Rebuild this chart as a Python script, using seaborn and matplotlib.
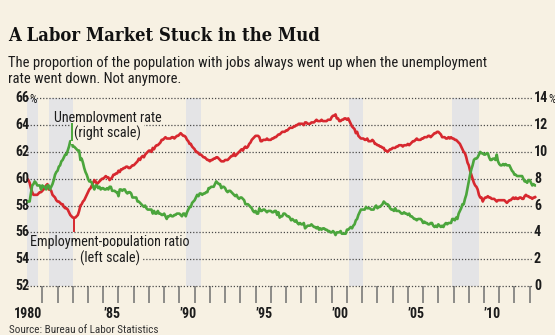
import numpy as np
import pandas as pd
import matplotlib
matplotlib.use("Agg")
import matplotlib.pyplot as plt
import matplotlib.transforms as mtransforms
from matplotlib import font_manager as fm
import seaborn as sns

# ---------------- data (monthly, starting Jan 1980) ----------------
start_year = 1980

unemployment_rate = [
    6.3, 6.3, 6.3, 6.9, 7.5, 7.6, 7.8, 7.7, 7.5, 7.5, 7.5, 7.2,      # 1980
    7.5, 7.4, 7.4, 7.2, 7.5, 7.5, 7.2, 7.4, 7.6, 7.9, 8.3, 8.5,      # 1981
    8.6, 8.9, 9.0, 9.3, 9.4, 9.6, 9.8, 9.8, 10.1, 10.4, 10.8, 10.8,  # 1982
    10.4, 10.4, 10.3, 10.2, 10.1, 10.1, 9.4, 9.5, 9.2, 8.8, 8.5, 8.3,  # 1983
    8.0, 7.8, 7.8, 7.7, 7.4, 7.2, 7.5, 7.5, 7.3, 7.4, 7.2, 7.3,      # 1984
    7.3, 7.2, 7.2, 7.3, 7.2, 7.4, 7.4, 7.1, 7.1, 7.1, 7.0, 7.0,      # 1985
    6.7, 7.2, 7.2, 7.1, 7.2, 7.2, 7.0, 6.9, 7.0, 7.0, 6.9, 6.6,      # 1986
    6.6, 6.6, 6.6, 6.3, 6.3, 6.2, 6.1, 6.0, 5.9, 6.0, 5.8, 5.7,      # 1987
    5.7, 5.7, 5.7, 5.4, 5.6, 5.4, 5.4, 5.6, 5.4, 5.4, 5.3, 5.3,      # 1988
    5.4, 5.2, 5.0, 5.2, 5.2, 5.3, 5.2, 5.2, 5.3, 5.3, 5.4, 5.4,      # 1989
    5.4, 5.3, 5.2, 5.4, 5.4, 5.2, 5.5, 5.7, 5.9, 5.9, 6.2, 6.3,      # 1990
    6.4, 6.6, 6.8, 6.7, 6.9, 6.9, 6.8, 6.9, 6.9, 7.0, 7.0, 7.3,      # 1991
    7.3, 7.4, 7.4, 7.4, 7.6, 7.8, 7.7, 7.6, 7.6, 7.3, 7.4, 7.4,      # 1992
    7.3, 7.1, 7.0, 7.1, 7.1, 7.0, 6.9, 6.8, 6.7, 6.8, 6.6, 6.5,      # 1993
    6.6, 6.6, 6.5, 6.4, 6.1, 6.1, 6.1, 6.0, 5.9, 5.8, 5.6, 5.5,      # 1994
    5.6, 5.4, 5.4, 5.8, 5.6, 5.6, 5.7, 5.7, 5.6, 5.5, 5.6, 5.6,      # 1995
    5.6, 5.5, 5.5, 5.6, 5.6, 5.3, 5.5, 5.1, 5.2, 5.2, 5.4, 5.4,      # 1996
    5.3, 5.2, 5.2, 5.1, 4.9, 5.0, 4.9, 4.8, 4.9, 4.7, 4.6, 4.7,      # 1997
    4.6, 4.6, 4.7, 4.3, 4.4, 4.5, 4.5, 4.5, 4.6, 4.5, 4.4, 4.4,      # 1998
    4.3, 4.4, 4.2, 4.3, 4.2, 4.3, 4.3, 4.2, 4.2, 4.1, 4.1, 4.0,      # 1999
    4.0, 4.1, 4.0, 3.8, 4.0, 4.0, 4.0, 4.1, 3.9, 3.9, 3.9, 3.9,      # 2000
    4.2, 4.2, 4.3, 4.4, 4.3, 4.5, 4.6, 4.9, 5.0, 5.3, 5.5, 5.7,      # 2001
    5.7, 5.7, 5.7, 5.9, 5.8, 5.8, 5.8, 5.7, 5.7, 5.7, 5.9, 6.0,      # 2002
    5.8, 5.9, 5.9, 6.0, 6.1, 6.3, 6.2, 6.1, 6.1, 6.0, 5.8, 5.7,      # 2003
    5.7, 5.6, 5.8, 5.6, 5.6, 5.6, 5.5, 5.4, 5.4, 5.5, 5.4, 5.4,      # 2004
    5.3, 5.4, 5.2, 5.2, 5.1, 5.0, 5.0, 4.9, 5.0, 5.0, 5.0, 4.9,      # 2005
    4.7, 4.8, 4.7, 4.7, 4.6, 4.6, 4.7, 4.7, 4.5, 4.4, 4.5, 4.4,      # 2006
    4.6, 4.5, 4.4, 4.5, 4.4, 4.6, 4.7, 4.6, 4.7, 4.7, 4.7, 5.0,      # 2007
    5.0, 4.9, 5.1, 5.0, 5.4, 5.6, 5.8, 6.1, 6.1, 6.5, 6.8, 7.3,      # 2008
    7.8, 8.3, 8.7, 9.0, 9.4, 9.5, 9.5, 9.6, 9.8, 10.0, 9.9, 9.9,     # 2009
    9.8, 9.8, 9.9, 9.9, 9.6, 9.4, 9.4, 9.5, 9.5, 9.4, 9.8, 9.3,      # 2010
    9.1, 9.0, 9.0, 9.1, 9.0, 9.1, 9.0, 9.0, 9.0, 8.8, 8.6, 8.5,      # 2011
    8.3, 8.3, 8.2, 8.2, 8.2, 8.2, 8.2, 8.0, 7.8, 7.8, 7.7, 7.9,      # 2012
    7.9, 7.7, 7.5, 7.6, 7.5, 7.5,                                    # 2013
]

employment_ratio = [
    60.0, 59.9, 59.7, 59.3, 59.0, 58.8, 58.8, 58.8, 58.8, 58.9, 59.0, 59.0,  # 1980
    59.1, 59.2, 59.3, 59.5, 59.6, 59.2, 59.2, 59.1, 58.8, 58.7, 58.6, 58.4,  # 1981
    58.3, 58.3, 58.2, 58.1, 58.1, 57.9, 57.8, 57.8, 57.7, 57.5, 57.3, 57.2,  # 1982
    57.1, 57.1, 57.1, 57.2, 57.3, 57.6, 58.0, 58.1, 58.3, 58.4, 58.6, 58.8,  # 1983
    59.0, 59.2, 59.3, 59.5, 59.7, 59.9, 59.8, 59.6, 59.7, 59.8, 59.9, 60.0,  # 1984
    60.0, 60.1, 60.2, 60.1, 60.1, 59.9, 60.0, 60.1, 60.3, 60.3, 60.4, 60.4,  # 1985
    60.6, 60.5, 60.7, 60.7, 60.8, 60.8, 60.9, 60.9, 60.8, 60.8, 60.9, 61.0,  # 1986
    61.0, 61.1, 61.2, 61.3, 61.5, 61.4, 61.6, 61.7, 61.6, 61.8, 61.9, 62.0,  # 1987
    62.1, 62.1, 62.0, 62.3, 62.2, 62.4, 62.5, 62.5, 62.6, 62.7, 62.9, 62.9,  # 1988
    63.0, 63.1, 63.0, 63.0, 63.0, 63.0, 63.1, 63.1, 63.0, 63.1, 63.2, 63.2,  # 1989
    63.3, 63.4, 63.3, 63.2, 63.2, 63.1, 62.9, 62.8, 62.6, 62.6, 62.4, 62.3,  # 1990
    62.2, 62.0, 62.0, 61.9, 61.8, 61.8, 61.7, 61.6, 61.6, 61.5, 61.4, 61.4,  # 1991
    61.3, 61.4, 61.4, 61.5, 61.5, 61.6, 61.6, 61.5, 61.4, 61.3, 61.3, 61.3,  # 1992
    61.4, 61.4, 61.4, 61.5, 61.6, 61.7, 61.7, 61.9, 61.7, 61.8, 61.9, 62.0,  # 1993
    62.1, 62.2, 62.1, 62.3, 62.4, 62.3, 62.4, 62.6, 62.7, 62.9, 63.0, 63.1,  # 1994
    63.2, 63.2, 63.2, 63.1, 62.8, 62.8, 62.9, 62.9, 62.9, 63.0, 62.9, 62.9,  # 1995
    62.9, 63.0, 63.0, 63.1, 63.1, 63.2, 63.3, 63.3, 63.4, 63.5, 63.5, 63.5,  # 1996
    63.6, 63.6, 63.7, 63.8, 63.8, 63.8, 63.9, 63.9, 64.0, 64.0, 64.1, 64.1,  # 1997
    64.1, 64.1, 64.0, 64.2, 64.2, 64.1, 64.1, 64.1, 64.2, 64.2, 64.2, 64.3,  # 1998
    64.4, 64.3, 64.3, 64.3, 64.4, 64.3, 64.3, 64.3, 64.3, 64.4, 64.4, 64.4,  # 1999
    64.6, 64.7, 64.7, 64.8, 64.5, 64.5, 64.3, 64.3, 64.4, 64.4, 64.5, 64.5,  # 2000
    64.4, 64.5, 64.3, 64.1, 63.9, 63.8, 63.7, 63.4, 63.5, 63.2, 63.1, 63.0,  # 2001
    63.0, 63.0, 62.9, 62.9, 63.0, 62.8, 62.8, 62.8, 62.9, 62.8, 62.6, 62.6,  # 2002
    62.5, 62.5, 62.4, 62.4, 62.3, 62.3, 62.1, 62.1, 62.0, 62.1, 62.2, 62.2,  # 2003
    62.3, 62.3, 62.3, 62.4, 62.4, 62.5, 62.5, 62.5, 62.4, 62.5, 62.5, 62.5,  # 2004
    62.6, 62.5, 62.6, 62.7, 62.8, 62.8, 62.9, 63.0, 62.9, 62.9, 62.9, 63.0,  # 2005
    63.0, 63.1, 63.1, 63.1, 63.2, 63.2, 63.1, 63.2, 63.3, 63.4, 63.4, 63.5,  # 2006
    63.5, 63.4, 63.3, 63.1, 63.1, 63.1, 63.0, 63.0, 63.1, 63.0, 63.1, 63.0,  # 2007
    63.0, 62.9, 62.9, 62.8, 62.7, 62.6, 62.4, 62.2, 62.0, 61.9, 61.6, 61.2,  # 2008
    61.0, 60.6, 60.3, 60.0, 59.7, 59.5, 59.4, 59.2, 58.8, 58.6, 58.6, 58.3,  # 2009
    58.5, 58.6, 58.6, 58.7, 58.6, 58.6, 58.5, 58.5, 58.5, 58.4, 58.3, 58.4,  # 2010
    58.4, 58.4, 58.4, 58.4, 58.4, 58.3, 58.2, 58.3, 58.4, 58.4, 58.5, 58.6,  # 2011
    58.5, 58.6, 58.5, 58.5, 58.6, 58.6, 58.5, 58.5, 58.7, 58.8, 58.7, 58.7,  # 2012
    58.6, 58.6, 58.5, 58.6, 58.6, 58.7,                                      # 2013
]

recession_starts = [1980.0, 1981.46, 1990.43, 2001.14, 2007.88]
recession_ends = [1980.70, 1983.04, 1991.40, 2002.04, 2009.65]

left_ticks = [52, 54, 56, 58, 60, 62, 64, 66]
right_ticks = [0, 2, 4, 6, 8, 10, 12, 14]
minor_year_ticks = list(range(1981, 2014))
year_label_years = [1980, 1985, 1990, 1995, 2000, 2005, 2010]
year_labels = ["1980", "\u201985", "\u201990", "\u201995", "\u201900", "\u201905", "\u201910"]

title = "A Labor Market Stuck in the Mud"
subtitle1 = "The proportion of the population with jobs always went up when the unemployment"
subtitle2 = "rate went down. Not anymore."
source = "Source: Bureau of Labor Statistics"
unemp_label = ["Unemployment rate", "(right scale)"]
emp_label = ["Employment-population ratio", "(left scale)"]

# ---------------- fonts: prefer a narrow sans if one is installed ----------------
entries = fm.fontManager.ttflist
names = {f.name for f in entries}
SANS, STRETCH = 'Liberation Sans', 'normal'
narrow_pref = ['Liberation Sans Narrow', 'Roboto Condensed', 'Noto Sans', 'DejaVu Sans',
               'Open Sans', 'Roboto', 'Liberation Sans']
found = False
for nm in narrow_pref:
    for f in entries:
        if f.name == nm and (('Narrow' in nm or 'Condensed' in nm) or
                             str(f.stretch) in ('condensed', 'semi-condensed', 'extra-condensed')):
            SANS = nm
            STRETCH = 'normal' if ('Narrow' in nm or 'Condensed' in nm) else str(f.stretch)
            found = True
            break
    if found:
        break
if not found:
    SANS = 'Liberation Sans' if 'Liberation Sans' in names else 'DejaVu Sans'

SERIF_STRETCH = 'normal'
for f in entries:
    if f.name == 'DejaVu Serif' and str(f.stretch) == 'condensed':
        SERIF_STRETCH = 'condensed'

# ---------------- style ----------------
sns.set_style("white")
plt.rcParams['font.family'] = [SANS, 'DejaVu Sans']
plt.rcParams['font.stretch'] = STRETCH

BG = '#F7F1E3'
RED = '#D7282F'
GREEN = '#4BA53C'
SHADE = '#E4E4E6'
GRID = '#4a4a4a'
TXT = '#1c1c1c'

W, H = 555, 335
fig = plt.figure(figsize=(W / 100, H / 100), dpi=100, facecolor=BG)


def fx(px):
    return px / W


def fy(py):
    return 1 - py / H


ax = fig.add_axes([fx(27.1), fy(286), fx(532) - fx(27.1), fy(98.3) - fy(286)])
ax.set_facecolor(BG)
ax2 = ax.twinx()
ax2.patch.set_visible(False)

n = len(employment_ratio)
dates = start_year + np.arange(n) / 12.0
df = pd.DataFrame({'date': dates, 'emp': employment_ratio, 'unemp': unemployment_rate})

for a, b in zip(recession_starts, recession_ends):
    ax.axvspan(a, b, color=SHADE, lw=0, zorder=0)

sns.lineplot(data=df, x='date', y='emp', ax=ax, color=RED, lw=1.9, zorder=3)
sns.lineplot(data=df, x='date', y='unemp', ax=ax2, color=GREEN, lw=1.9, zorder=3)
for l in ax.lines + ax2.lines:
    l.set_clip_on(False)
    l.set_solid_capstyle('butt')

ax.set_xlim(1980, 2013.15)
ax.set_ylim(52, 66)
ax2.set_ylim(0, 14)
ax.set_xlabel('')
ax.set_ylabel('')
ax2.set_ylabel('')

ax.set_axisbelow(True)
ax.set_yticks(left_ticks)
ax.yaxis.grid(True, color=GRID, lw=0.9, linestyle=(0, (1, 1.5)))
for gl in ax.get_ygridlines():
    gl.set_clip_on(False)
ax.xaxis.grid(False)
ax.tick_params(axis='y', length=0, labelleft=False)
ax2.set_yticks(right_ticks)
ax2.tick_params(axis='y', length=0, labelright=False)
ax2.grid(False)

ax.set_xticks(minor_year_ticks)
ax.tick_params(axis='x', direction='out', length=12.4, width=1.1, color='#707070',
               labelbottom=False, bottom=True)
for s in ax.spines.values():
    s.set_visible(False)
for s in ax2.spines.values():
    s.set_visible(False)

# pointer lines from the extreme points to the labels
i_max = n - 1 - int(np.argmax(np.array(unemployment_rate)[::-1]))
i_min = int(np.argmin(employment_ratio))
ax2.plot([dates[i_max], dates[i_max]], [unemployment_rate[i_max], 12.15], color=GREEN,
         lw=1.4, zorder=6, solid_capstyle='butt')
ax.plot([dates[i_min] + 0.08, dates[i_min] + 0.08], [employment_ratio[i_min], 56.0], color=RED,
        lw=1.4, zorder=6, solid_capstyle='butt')

# ---------------- texts ----------------
tick_fs = 9.5
trans_left = mtransforms.blended_transform_factory(fig.transFigure, ax.transData)
trans_right = mtransforms.blended_transform_factory(fig.transFigure, ax2.transData)
trans_x = mtransforms.blended_transform_factory(ax.transData, fig.transFigure)

PCT = 0.85
tick_texts = []
pct_texts = []
for v in left_ticks:
    t = ax.text(fx(15), v, str(v), transform=trans_left, ha='left', va='center',
                fontsize=tick_fs, color=TXT, fontweight='bold')
    tick_texts.append(t)
    if v == left_ticks[-1]:
        pct_texts.append(ax.annotate('%', xy=(1, 0.88), xycoords=t, ha='left', va='top',
                                     fontsize=tick_fs * PCT, color=TXT))
for v in right_ticks:
    t = ax2.text(fx(534), v, str(v), transform=trans_right, ha='left', va='center',
                 fontsize=tick_fs, color=TXT, fontweight='bold')
    tick_texts.append(t)
    if v == right_ticks[-1]:
        pct_texts.append(ax2.annotate('%', xy=(1, 0.88), xycoords=t, ha='left', va='top',
                                      fontsize=tick_fs * PCT, color=TXT))
year_texts = []
for yr, lab in zip(year_label_years, year_labels):
    off = 0.03 if yr == 1980 else 0.56
    t = ax.text(yr + off, fy(313.5), lab, transform=trans_x, ha='center', va='center',
                fontsize=tick_fs, color=TXT, fontweight='bold')
    tick_texts.append(t)
    year_texts.append(t)

t_title = fig.text(fx(8), fy(41), title, ha='left', va='baseline', fontsize=15,
                   family=['DejaVu Serif'], fontweight='bold', fontstretch=SERIF_STRETCH,
                   color='#111111')
t_sub1 = fig.text(fx(8), fy(67), subtitle1, ha='left', va='baseline', fontsize=10.5, color=TXT)
t_sub2 = fig.text(fx(8), fy(83), subtitle2, ha='left', va='baseline', fontsize=10.5, color=TXT)
t_src = fig.text(fx(9), fy(333), source, ha='left', va='baseline', fontsize=8, color='#333333')

box = dict(boxstyle='square,pad=0.22', fc=BG, ec='none')
u1 = ax2.text(1985.27, 64.23, unemp_label[0], transform=ax.transData, ha='center', va='baseline',
              fontsize=10, color=TXT, zorder=4)
u2 = ax2.text(1985.27, 63.10, unemp_label[1], transform=ax.transData, ha='center', va='baseline',
              fontsize=10, color=TXT, zorder=4, bbox=box)
e1 = ax2.text(1985.44, 55.02, emp_label[0], transform=ax.transData, ha='center', va='baseline',
              fontsize=10, color=TXT, zorder=4)
e2 = ax2.text(1985.44, 53.78, emp_label[1], transform=ax.transData, ha='center', va='baseline',
              fontsize=10, color=TXT, zorder=4, bbox=box)

# fit text widths to the reference layout
fig.canvas.draw()
r = fig.canvas.get_renderer()


def fit(t, width_px):
    w = t.get_window_extent(r).width
    fs = t.get_fontsize() * width_px / w
    t.set_fontsize(fs)
    return fs


fit(t_title, 312)
fs_sub = fit(t_sub1, 482)
t_sub2.set_fontsize(fs_sub)
fit(t_src, 150)
fs_ann = fit(e1, 160)
for t in (u1, u2, e2):
    t.set_fontsize(fs_ann)
fs_tick = min(fit(year_texts[0], 28.5), 10.5)
for t in tick_texts:
    t.set_fontsize(fs_tick)
for t in pct_texts:
    t.set_fontsize(fs_tick * PCT)

fig.savefig('out.png', dpi=100, facecolor=BG)
